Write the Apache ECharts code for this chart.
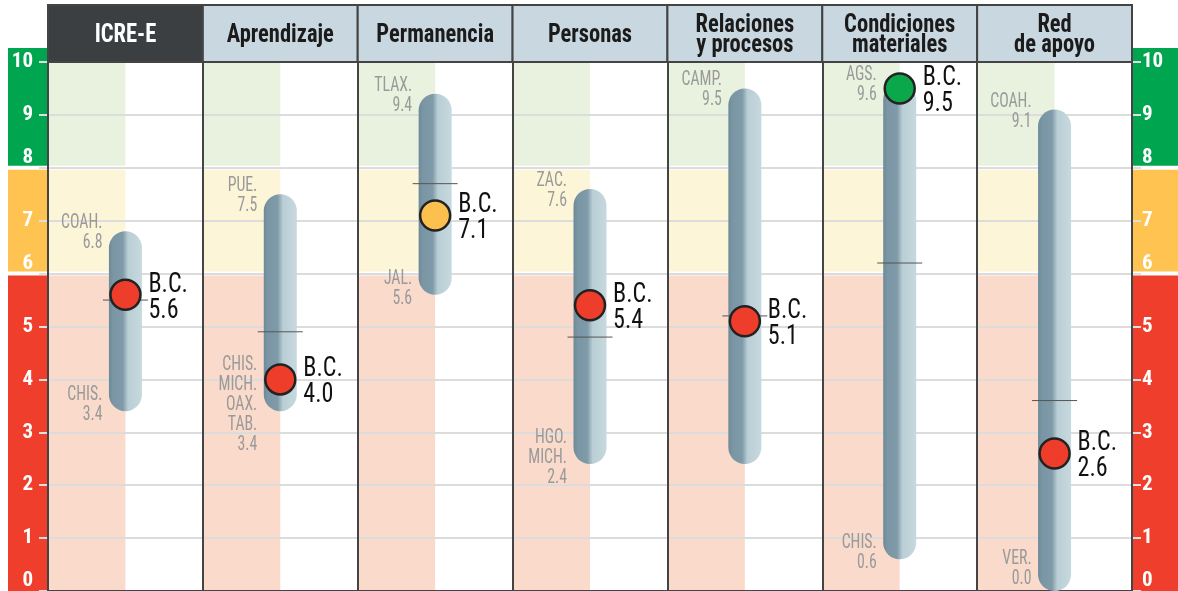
<!DOCTYPE html>
<html>
<head>
<meta charset="utf-8">
<script src="https://cdn.jsdelivr.net/npm/echarts@6/dist/echarts.min.js"></script>
<style>
  html, body { margin: 0; padding: 0; background: #fff; }
  #chart { width: 1178px; height: 591px; }
</style>
</head>
<body>
<div id="chart"></div>
<script>
// --- data ---
const categories = ['ICRE-E', 'Aprendizaje', 'Permanencia', 'Personas', 'Relaciones\ny procesos', 'Condiciones\nmateriales', 'Red\nde apoyo'];
const bcValues = [5.6, 4.0, 7.1, 5.4, 5.1, 9.5, 2.6];
const maxValues = [6.8, 7.5, 9.4, 7.6, 9.5, 9.6, 9.1];
const minValues = [3.4, 3.4, 5.6, 2.4, 2.4, 0.6, 0.0];
const maxStates = ['COAH.', 'PUE.', 'TLAX.', 'ZAC.', 'CAMP.', 'AGS.', 'COAH.'];
const minStates = ['CHIS.', 'CHIS.\nMICH.\nOAX.\nTAB.', 'JAL.', 'HGO.\nMICH.', '', 'CHIS.', 'VER.'];
const avgValues = [5.5, 4.9, 7.7, 4.8, 5.2, 6.2, 3.6];
const bandBreaks = [0, 6, 8, 10];
const shiftedTicks = [0, 6, 8];

// --- styles ---
const FONT = '"Roboto Condensed", "Liberation Sans Narrow", "DejaVu Sans Condensed", sans-serif';
const bandColors = ['#ef3e2b', '#fec350', '#00a64f'];
const pastelColors = ['#f9dacb', '#fcf5d7', '#e9f2df'];
const markerColors = ['#ee3d2a', '#fbc04e', '#0aa84b'];

const zoneOf = v => (v >= bandBreaks[2] ? 2 : v >= bandBreaks[1] ? 1 : 0);

const chart = echarts.init(document.getElementById('chart'));

const barGradient = new echarts.graphic.LinearGradient(0, 0, 1, 0, [
  {offset: 0, color: '#6d8a99'},
  {offset: 0.12, color: '#7a95a3'},
  {offset: 0.42, color: '#7f9aa8'},
  {offset: 0.58, color: '#b9ced5'},
  {offset: 1, color: '#c6d9de'}
]);

// fondo: mitades pastel y franjas de color de los ejes
const renderBackground = (params, api) => {
  const i = api.value(0);
  const cs = params.coordSys;
  const bw = api.size([1, 0])[0];
  const cx = api.coord([i, 0])[0];
  const children = [];
  for (let z = 0; z < 3; z++) {
    const lo = bandBreaks[z], hi = bandBreaks[z + 1];
    let y1 = api.coord([i, hi])[1];
    let y2 = api.coord([i, lo])[1];
    if (hi < 10) y1 += 2;
    if (lo > 0) y2 -= 2;
    children.push({
      type: 'rect',
      shape: {x: cx - bw / 2, y: y1, width: bw / 2, height: y2 - y1},
      style: {fill: pastelColors[z]}
    });
    if (i === 0) {
      const top = hi === 10 ? y1 - 14 : y1;
      children.push({
        type: 'rect',
        shape: {x: cs.x - 40, y: top, width: 40, height: y2 - top},
        style: {fill: bandColors[z]}
      });
      children.push({
        type: 'rect',
        shape: {x: cs.x + cs.width, y: top, width: 46, height: y2 - top},
        style: {fill: bandColors[z]}
      });
    }
  }
  return {type: 'group', children};
};

// barras de rango con etiquetas de estados
const renderRange = (params, api) => {
  const i = api.value(0);
  const lo = api.value(1), hi = api.value(2);
  const [cx, yHi] = api.coord([i, hi]);
  const yLo = api.coord([i, lo])[1];
  const w = 33;
  const lh = 20;
  const bottom = params.coordSys.y + params.coordSys.height;
  const children = [{
    type: 'rect',
    shape: {x: cx - w / 2, y: yHi, width: w, height: yLo - yHi, r: w / 2},
    style: {fill: barGradient}
  }];
  const textStyle = {x: 0, y: 0, align: 'right', verticalAlign: 'middle', fill: '#9a9a9a', fontFamily: FONT, fontSize: 20, lineHeight: lh};
  children.push({
    type: 'text', x: cx - 23, y: yHi + 2, scaleX: 0.79,
    style: Object.assign({text: maxStates[i] + '\n' + hi.toFixed(1)}, textStyle)
  });
  if (minStates[i]) {
    const txt = minStates[i] + '\n' + lo.toFixed(1);
    const n = txt.split('\n').length;
    children.push({
      type: 'text', x: cx - 23, y: Math.min(yLo - 6, bottom - n * lh / 2 - 2), scaleX: 0.79,
      style: Object.assign({text: txt}, textStyle)
    });
  }
  return {type: 'group', children};
};

// línea de promedio nacional
const renderAvg = (params, api) => {
  const [cx, y] = api.coord([api.value(0), api.value(1)]);
  return {
    type: 'line',
    shape: {x1: cx - 22.5, y1: y, x2: cx + 22.5, y2: y},
    style: {stroke: '#555', lineWidth: 1}
  };
};

// marcador de B.C.
const renderMarker = (params, api) => {
  const v = api.value(1);
  const [cx, cy] = api.coord([api.value(0), v]);
  return {
    type: 'group',
    children: [{
      type: 'circle',
      shape: {cx, cy, r: 15},
      style: {fill: markerColors[zoneOf(v)], stroke: '#222', lineWidth: 2.5}
    }, {
      type: 'text', x: cx + 23, y: cy + 3, scaleX: 0.86,
      style: {
        text: 'B.C.\n' + v.toFixed(1), x: 0, y: 0,
        align: 'left', verticalAlign: 'middle',
        fill: '#111', fontFamily: FONT, fontSize: 28, lineHeight: 26
      }
    }]
  };
};

// encabezados de columna
const renderHeader = (params, api) => {
  const i = api.value(0);
  const cs = params.coordSys;
  const bw = api.size([1, 0])[0];
  const cx = api.coord([i, 0])[0];
  const h = 57;
  const dark = i === 0;
  return {
    type: 'group',
    children: [{
      type: 'rect',
      shape: {x: cx - bw / 2, y: cs.y - h, width: bw, height: h},
      style: {fill: dark ? '#3b3f42' : '#c9d8e0', stroke: '#444', lineWidth: 2}
    }, {
      type: 'text', x: cx, y: cs.y - h / 2 + 2, scaleX: 0.9,
      style: {
        text: categories[i], x: 0, y: 0,
        align: 'center', verticalAlign: 'middle',
        fill: dark ? '#fff' : '#1b1b1b',
        fontFamily: FONT, fontWeight: 'bold', fontSize: 25, lineHeight: 20
      }
    }]
  };
};

const tickFormatter = v => (shiftedTicks.includes(v) ? v + '\n ' : String(v));

const yAxisBase = {
  type: 'value', min: 0, max: 10, interval: 1, z: 3,
  axisLine: {show: false},
  axisTick: {show: true, length: 9, lineStyle: {color: '#dedede', width: 2}},
  axisLabel: {color: '#fff', fontFamily: FONT, fontWeight: 'bold', fontSize: 21, lineHeight: 20, formatter: tickFormatter}
};

const option = {
  animation: false,
  grid: {left: 48, right: 46, top: 62, bottom: 0, containLabel: false, outerBoundsMode: 'none'},
  xAxis: {
    type: 'category',
    data: categories,
    boundaryGap: true,
    z: 4,
    axisLine: {show: true, lineStyle: {color: '#444', width: 2}},
    axisTick: {show: false},
    axisLabel: {show: false},
    splitLine: {show: true, interval: 0, lineStyle: {color: '#444', width: 2}}
  },
  yAxis: [
    Object.assign({}, yAxisBase, {
      position: 'left',
      axisLabel: Object.assign({}, yAxisBase.axisLabel, {margin: 15}),
      splitLine: {show: true, lineStyle: {color: '#dcdcdc', width: 2}}
    }),
    Object.assign({}, yAxisBase, {
      position: 'right',
      axisLabel: Object.assign({}, yAxisBase.axisLabel, {margin: 10}),
      splitLine: {show: false}
    })
  ],
  series: [
    {
      type: 'custom', z: 1, silent: true,
      renderItem: renderBackground,
      data: categories.map((c, i) => [i])
    },
    {
      type: 'custom', z: 5, silent: true,
      renderItem: renderRange,
      data: categories.map((c, i) => [i, minValues[i], maxValues[i]])
    },
    {
      type: 'custom', z: 6, silent: true,
      renderItem: renderAvg,
      data: categories.map((c, i) => [i, avgValues[i]])
    },
    {
      type: 'custom', z: 7, silent: true,
      renderItem: renderMarker,
      data: bcValues.map((v, i) => [i, v])
    },
    {
      type: 'custom', z: 10, silent: true,
      renderItem: renderHeader,
      data: categories.map((c, i) => [i])
    }
  ]
};

chart.setOption(option);
</script>
</body>
</html>
